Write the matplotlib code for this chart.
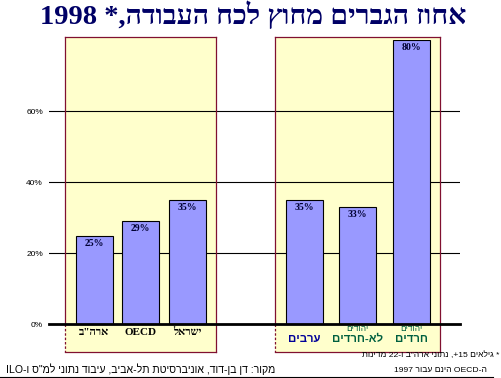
import matplotlib
matplotlib.use("Agg")
import matplotlib.pyplot as plt
from matplotlib.patches import Rectangle
from matplotlib.lines import Line2D

# ---------------- data ----------------
title_text = "אחוז הגברים מחוץ לכח העבודה,* 1998"
left_categories = ['ארה"ב', "OECD", "ישראל"]
left_values = [25, 29, 35]
right_categories = ["ערבים", "לא-חרדים", "חרדים"]
right_subtitles = ["", "יהודים", "יהודים"]
right_values = [35, 33, 80]
y_ticks = [0, 20, 40, 60]
y_tick_labels = ["0%", "20%", "40%", "60%"]
footnote_lines = ['* גילאים 15+, נתוני ארה"ב ו-22 מדינות', "ה-OECD הינם עבור 1997"]
source_text = 'מקור: דן בן-דוד, אוניברסיטת תל-אביב, עיבוד נתוני למ"ס ו-ILO'


def to_visual(s):
    """Minimal RTL bidi reordering for display in a left-to-right renderer."""
    types = []
    for ch in s:
        if "\u0590" <= ch <= "\u05ff":
            types.append("R")
        elif ch.isdigit():
            types.append("EN")
        elif ch.isalpha():
            types.append("L")
        else:
            types.append("N")
    n = len(s)
    levels = [1 if t == "R" else 2 if t in ("L", "EN") else 0 for t in types]
    i = 0
    while i < n:
        if types[i] == "N":
            j = i
            while j < n and types[j] == "N":
                j += 1
            prev = types[i - 1] if i > 0 else "R"
            nxt = types[j] if j < n else "R"
            lvl = 2 if (prev == "L" and nxt == "L") else 1
            for k in range(i, j):
                levels[k] = lvl
            i = j
        else:
            i += 1
    chars = list(s)
    for minlvl in (2, 1):
        out = []
        i = 0
        while i < n:
            if levels[i] >= minlvl:
                j = i
                while j < n and levels[j] >= minlvl:
                    j += 1
                seg = list(zip(chars[i:j], levels[i:j]))[::-1]
                out.extend(seg)
                i = j
            else:
                out.append((chars[i], levels[i]))
                i += 1
        chars = [c for c, _ in out]
        levels = [l for _, l in out]
    return "".join(chars)


# ---------------- layout ----------------
W, H = 501, 378
DPI = 100
AX_L, AX_R = 49, 460          # pixels
AX_TOP, AX_BOT = 40.3, 324.3  # pixels (80% and 0%)
group_start = [45.3, 255.2]   # bar centres relative to axes left (px units)
group_step = [46.4, 53.5]
bar_w = 37
panels = [(65.3, 216.3), (275.3, 439.7)]  # x extents (px)
panel_top, panel_bot = 37.3, 351.7

SERIF = ["Liberation Serif", "DejaVu Serif"]
SANS = ["Liberation Sans", "DejaVu Sans"]
NAVY = "#000066"
EDGE = "#801030"

fig = plt.figure(figsize=(W / DPI, H / DPI), dpi=DPI)
fig.patch.set_facecolor("white")


def fx(x):
    return x / W


def fy(y):
    return 1 - y / H


ax = fig.add_axes([fx(AX_L), fy(AX_BOT), (AX_R - AX_L) / W, (AX_BOT - AX_TOP) / H])
ax.set_xlim(0, AX_R - AX_L)
ax.set_ylim(0, 80)
ax.patch.set_alpha(0)
for sp in ax.spines.values():
    sp.set_visible(False)
ax.set_xticks([])
ax.set_yticks(y_ticks)
ax.set_yticklabels(y_tick_labels, family=SANS, fontsize=6)
ax.tick_params(axis="y", length=0, pad=4.3)

# panels (yellow boxes)
for (x0, x1) in panels:
    ax.add_patch(Rectangle((fx(x0), fy(panel_bot)), fx(x1) - fx(x0), fy(panel_top) - fy(panel_bot),
                           transform=fig.transFigure, facecolor="#FFFFCC", edgecolor="none",
                           zorder=0.5, clip_on=False))
    lw = 0.9
    kw = dict(transform=fig.transFigure, color=EDGE, lw=lw, clip_on=False, zorder=2)
    ax.add_line(Line2D([fx(x0), fx(x1)], [fy(panel_top)] * 2, **kw))
    ax.add_line(Line2D([fx(x0), fx(x1)], [fy(panel_bot)] * 2, **kw))
    ax.add_line(Line2D([fx(x1)] * 2, [fy(panel_top), fy(panel_bot)], **kw))
    ax.add_line(Line2D([fx(x0)] * 2, [fy(panel_top), fy(AX_BOT)], **kw))
    ax.add_line(Line2D([fx(x0)] * 2, [fy(AX_BOT), fy(panel_bot)], ls=(0, (2, 1.5)), **kw))

# gridlines
for t in y_ticks:
    if t == 0:
        ax.axhline(t, color="black", lw=2.0, zorder=4, clip_on=False)
    else:
        ax.axhline(t, color="black", lw=0.8, zorder=1)

# bars
groups = [(left_categories, left_values), (right_categories, right_values)]
for g, (cats, vals) in enumerate(groups):
    xs = [group_start[g] + i * group_step[g] for i in range(len(cats))]
    ax.bar(xs, vals, width=bar_w, color="#9999FF", edgecolor="black", lw=0.8, zorder=3)
    for x, v in zip(xs, vals):
        ax.annotate(f"{v}%", (x, v), xytext=(0, -5.5), textcoords="offset points",
                    ha="center", va="center", family=SERIF, fontweight="bold",
                    fontsize=7, color="#000033", zorder=5)
    if g == 0:
        for x, c in zip(xs, cats):
            ax.annotate(to_visual(c), (x, 0), xytext=(0, -5.6), textcoords="offset points",
                        ha="center", va="center", family=SERIF, fontweight="bold",
                        fontsize=8, color="black", annotation_clip=False)
    else:
        for k, (x, c, sub) in enumerate(zip(xs, cats, right_subtitles)):
            if sub:
                ax.annotate(to_visual(sub), (x, 0), xytext=(0, -3.9), textcoords="offset points",
                            ha="center", va="center", family=SANS, fontsize=6,
                            color="#006040", annotation_clip=False)
                col = "#006040"
            else:
                col = "#000099"
            ax.annotate(to_visual(c), (x, 0), xytext=(0, -10.9), textcoords="offset points",
                        ha="center", va="center", family=SANS, fontweight="bold",
                        fontsize=8.2, color=col, annotation_clip=False)

# title
fig.text(fx(253), fy(24), to_visual(title_text), ha="center", va="baseline",
         family=SERIF, fontweight="bold", fontsize=20.5, color=NAVY)

# footnotes
fig.text(fx(499), fy(355), to_visual(footnote_lines[0]), ha="right", va="center",
         family=SANS, fontsize=6.1, color="black")
fig.text(fx(487), fy(370), to_visual(footnote_lines[1]), ha="right", va="center",
         family=SANS, fontsize=6.1, color="black")
fig.text(fx(275), fy(369), to_visual(source_text), ha="right", va="center",
         family=SANS, fontsize=7.6, color="black")
fig.add_artist(Line2D([fx(0), fx(493)], [fy(376.5)] * 2, color="black", lw=0.8,
                      transform=fig.transFigure))

fig.savefig("out.png", dpi=DPI)
